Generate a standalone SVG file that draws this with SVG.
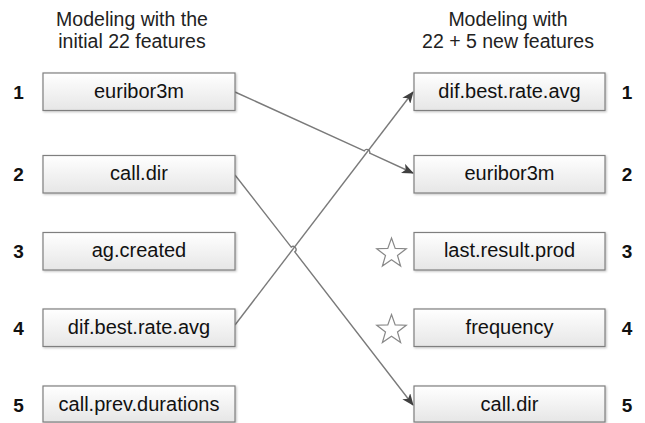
<svg xmlns="http://www.w3.org/2000/svg" width="645" height="423" viewBox="0 0 645 423">
<defs>
<linearGradient id="g" x1="0" y1="0" x2="0" y2="1">
<stop offset="0" stop-color="#ffffff"/>
<stop offset="1" stop-color="#e6e6e6"/>
</linearGradient>
<marker id="arr" markerWidth="12" markerHeight="10" refX="11" refY="5" orient="auto" markerUnits="userSpaceOnUse">
<path d="M0,0 L12,5 L0,10 L3,5 Z" fill="#404040"/>
</marker>
<filter id="sh" x="-5%" y="-10%" width="110%" height="130%">
<feDropShadow dx="1" dy="1" stdDeviation="0.8" flood-color="#000" flood-opacity="0.25"/>
</filter>
<polygon id="star" points="0,-15.5 3.7,-5.1 14.74,-4.79 5.99,1.95 9.11,12.54 0,6.3 -9.11,12.54 -5.99,1.95 -14.74,-4.79 -3.7,-5.1"/>
</defs>
<style>
.box{fill:url(#g);stroke:#7f7f7f;stroke-width:1.2;filter:url(#sh)}
.lbl{font-family:"Liberation Sans",Arial,sans-serif;font-size:20px;fill:#111;text-anchor:middle}
.num{font-family:"Liberation Sans",Arial,sans-serif;font-size:19px;font-weight:bold;fill:#111;text-anchor:middle}
.hdr{font-family:"Liberation Sans",Arial,sans-serif;font-size:19.5px;fill:#222;text-anchor:middle}
.con{fill:none;stroke:#7a7a7a;stroke-width:1.4}
.star{fill:#fff;stroke:#888;stroke-width:1.2}
</style>
<g id="headers">
<text class="hdr" x="132" y="26">Modeling with the</text>
<text class="hdr" x="132" y="48">initial 22 features</text>
<text class="hdr" x="508" y="26">Modeling with</text>
<text class="hdr" x="508" y="48">22 + 5 new features</text>
</g>
<g id="connectors">
<path class="con" d="M235,92 L364.3,150.8 A3,3 0 0 1 369.7,153.2 L413,173" marker-end="url(#arr)"/>
<path class="con" d="M235,175 L291.2,247.1 A3,3 0 0 1 294.8,251.9 L413,405" marker-end="url(#arr)"/>
<path class="con" d="M235,325 L413,92" marker-end="url(#arr)"/>
</g>
<g id="left1"><rect class="box" x="43" y="73" width="192" height="37.5"/><text class="lbl" x="139" y="97.5">euribor3m</text><text class="num" x="18.5" y="99">1</text></g>
<g id="left2"><rect class="box" x="43" y="155.5" width="192" height="37.5"/><text class="lbl" x="139" y="180">call.dir</text><text class="num" x="18.5" y="181">2</text></g>
<g id="left3"><rect class="box" x="43" y="232.5" width="192" height="37.5"/><text class="lbl" x="139" y="257">ag.created</text><text class="num" x="18.5" y="258">3</text></g>
<g id="left4"><rect class="box" x="43" y="309" width="192" height="37.5"/><text class="lbl" x="139" y="333.5">dif.best.rate.avg</text><text class="num" x="18.5" y="334.5">4</text></g>
<g id="left5"><rect class="box" x="43" y="386" width="192" height="36"/><text class="lbl" x="139" y="410.5">call.prev.durations</text><text class="num" x="18.5" y="411.5">5</text></g>
<g id="right1"><rect class="box" x="414" y="73" width="191" height="37.5"/><text class="lbl" x="509.5" y="97.5">dif.best.rate.avg</text><text class="num" x="627" y="99">1</text></g>
<g id="right2"><rect class="box" x="414" y="155.5" width="191" height="37.5"/><text class="lbl" x="509.5" y="180">euribor3m</text><text class="num" x="627" y="181">2</text></g>
<g id="right3"><rect class="box" x="414" y="232.5" width="191" height="37.5"/><text class="lbl" x="509.5" y="257">last.result.prod</text><text class="num" x="627" y="258">3</text>
<use href="#star" class="star" x="391.5" y="253.5"/></g>
<g id="right4"><rect class="box" x="414" y="309" width="191" height="37.5"/><text class="lbl" x="509.5" y="333.5">frequency</text><text class="num" x="627" y="334.5">4</text>
<use href="#star" class="star" x="391.5" y="330"/></g>
<g id="right5"><rect class="box" x="414" y="386" width="191" height="36"/><text class="lbl" x="509.5" y="410.5">call.dir</text><text class="num" x="627" y="411.5">5</text></g>
</svg>
